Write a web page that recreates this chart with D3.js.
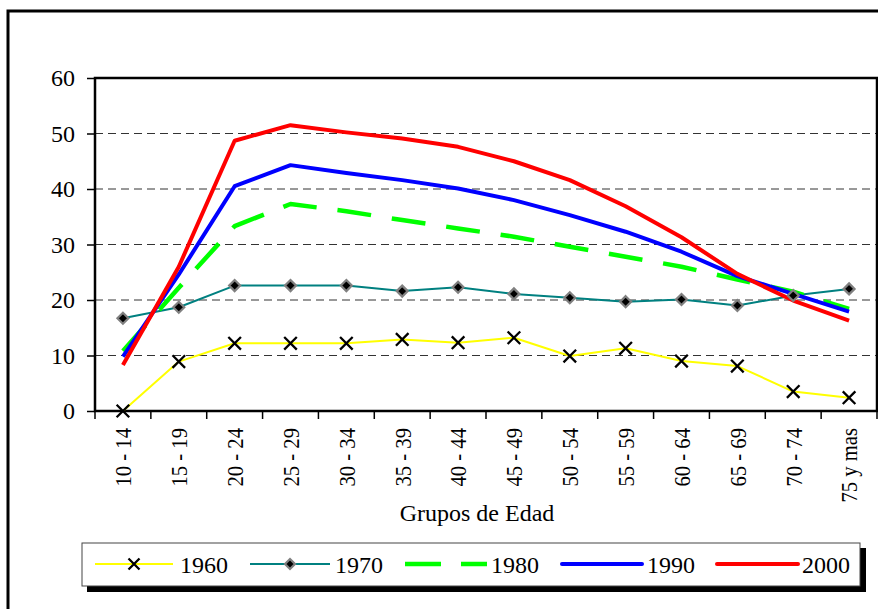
<!DOCTYPE html>
<html>
<head>
<meta charset="utf-8">
<script src="https://cdn.jsdelivr.net/npm/d3@7"></script>
<style>
  body { margin: 0; background: #fff; }
  svg { display: block; }
  svg text { font-family: "Liberation Serif", "Times New Roman", Times, "DejaVu Serif", serif !important; fill: #000; }
</style>
</head>
<body>
<svg id="chart" width="878" height="609"></svg>
<script>
const categories = ["10 - 14","15 - 19","20 - 24","25 - 29","30 - 34","35 - 39","40 - 44","45 - 49","50 - 54","55 - 59","60 - 64","65 - 69","70 - 74","75 y mas"];
const yTicks = [0, 10, 20, 30, 40, 50, 60];
const s1960 = [0, 8.9, 12.2, 12.2, 12.2, 12.9, 12.3, 13.2, 9.9, 11.3, 9.0, 8.1, 3.5, 2.4];
const s1970 = [16.7, 18.7, 22.6, 22.6, 22.6, 21.6, 22.3, 21.1, 20.4, 19.7, 20.1, 19.0, 20.8, 22.0];
const s1980 = [10.8, 22.2, 33.3, 37.3, 36.0, 34.4, 32.9, 31.4, 29.6, 27.8, 26.0, 23.7, 21.5, 18.4];
const s1990 = [9.8, 24.6, 40.5, 44.3, 42.9, 41.6, 40.1, 38.0, 35.3, 32.3, 28.7, 24.3, 21.1, 17.9];
const s2000 = [8.3, 26.0, 48.7, 51.5, 50.2, 49.1, 47.6, 45.0, 41.6, 36.9, 31.3, 24.7, 19.9, 16.3];
const seriesNames = ["1960", "1970", "1980", "1990", "2000"];

const series = [
  { name: seriesNames[0], values: s1960, color: "#FFFF00", width: 2, dash: null, marker: "x" },
  { name: seriesNames[1], values: s1970, color: "#008080", width: 2, dash: null, marker: "diamond" },
  { name: seriesNames[2], values: s1980, color: "#00FF00", width: 4.5, dash: "34,21", marker: null },
  { name: seriesNames[3], values: s1990, color: "#0000FF", width: 4, dash: null, marker: null },
  { name: seriesNames[4], values: s2000, color: "#FF0000", width: 4, dash: null, marker: null }
];

const svg = d3.select("#chart");
const L = 95, R = 877, T = 78, B = 411;

// outer frame (extends past the right/bottom edges)
svg.append("path").attr("d", "M8,620 L8,11 L890,11")
  .attr("fill", "none").attr("stroke", "#000").attr("stroke-width", 3);

const x = d3.scaleBand().domain(categories).range([L, R]).padding(0);
const y = d3.scaleLinear().domain([0, 60]).range([B, T]);
const cx = c => x(c) + x.bandwidth() / 2;

// gridlines
svg.append("g").selectAll("line").data(yTicks.filter(v => v > 0 && v < 60)).join("line")
  .attr("x1", L).attr("x2", R).attr("y1", d => y(d)).attr("y2", d => y(d))
  .attr("stroke", "#333").attr("stroke-width", 1).attr("stroke-dasharray", "8,5");

// plot border
svg.append("rect").attr("x", L).attr("y", T).attr("width", R - L).attr("height", B - T)
  .attr("fill", "none").attr("stroke", "#000").attr("stroke-width", 2.5);

// y axis
const yAxis = svg.append("g").attr("transform", `translate(${L},0)`)
  .call(d3.axisLeft(y).tickValues(yTicks).tickSize(8).tickPadding(12).tickFormat(d3.format("d")));
yAxis.attr("font-family", null).attr("font-size", null);
yAxis.select(".domain").remove();
yAxis.selectAll("line").attr("stroke", "#000").attr("stroke-width", 1.5);
yAxis.selectAll("text").style("font-size", "24px");

// x axis
const xAxis = svg.append("g").attr("transform", `translate(0,${B})`)
  .call(d3.axisBottom(x).tickSize(0).tickPadding(0));
xAxis.attr("font-family", null).attr("font-size", null);
xAxis.select(".domain").remove();
xAxis.selectAll("text")
  .style("font-size", "24px")
  .attr("text-anchor", "end")
  .attr("transform", "translate(0,17) rotate(-90) scale(0.86,1)")
  .attr("x", 0).attr("y", 0).attr("dy", "0.35em");
// tick marks at band boundaries
const bounds = categories.map(c => x(c)).concat([x.range()[1]]);
svg.append("g").selectAll("line").data(bounds).join("line")
  .attr("x1", d => d).attr("x2", d => d).attr("y1", B).attr("y2", B + 8)
  .attr("stroke", "#000").attr("stroke-width", 1.5);

// axis title
svg.append("text").attr("x", 477).attr("y", 521).attr("text-anchor", "middle")
  .style("font-size", "24px").text("Grupos de Edad");

// lines
const line = d3.line().x((d, i) => cx(categories[i])).y(d => y(d));
const gLines = svg.append("g");
series.forEach(s => {
  gLines.append("path").datum(s.values).attr("d", line)
    .attr("fill", "none").attr("stroke", s.color).attr("stroke-width", s.width)
    .attr("stroke-linejoin", "round")
    .attr("stroke-dasharray", s.dash);
});

function drawX(g, px, py, r) {
  g.append("path").attr("d", `M${px - r},${py - r}L${px + r},${py + r}M${px - r},${py + r}L${px + r},${py - r}`)
    .attr("stroke", "#000").attr("stroke-width", 2.3).attr("fill", "none");
}
function drawDiamond(g, px, py, r) {
  g.append("path").attr("d", `M${px},${py - r}L${px + r},${py}L${px},${py + r}L${px - r},${py}Z`)
    .attr("fill", "#000").attr("stroke", "#808080").attr("stroke-width", 2.2);
}

// markers
const gMarks = svg.append("g");
series.forEach(s => {
  if (!s.marker) return;
  s.values.forEach((v, i) => {
    const px = cx(categories[i]), py = y(v);
    if (s.marker === "x") drawX(gMarks, px, py, 6.3);
    else drawDiamond(gMarks, px, py, 5.5);
  });
});

// legend
const lg = svg.append("g");
lg.append("rect").attr("x", 87).attr("y", 548).attr("width", 779).attr("height", 44).attr("fill", "#000");
lg.append("rect").attr("x", 82).attr("y", 543).attr("width", 778).attr("height", 43)
  .attr("fill", "#fff").attr("stroke", "#444").attr("stroke-width", 1);
const legendItems = [
  { x1: 95, x2: 173, tx: 180 },
  { x1: 250, x2: 330, tx: 335 },
  { x1: 405, x2: 487, tx: 491 },
  { x1: 562, x2: 642, tx: 647 },
  { x1: 717, x2: 798, tx: 802 }
];
const ly = 564;
series.forEach((s, i) => {
  const it = legendItems[i];
  lg.append("line").attr("x1", it.x1).attr("x2", it.x2).attr("y1", ly).attr("y2", ly)
    .attr("stroke", s.color).attr("stroke-width", s.width)
    .attr("stroke-linecap", s.dash ? "butt" : (s.width >= 4 ? "round" : "butt"))
    .attr("stroke-dasharray", s.dash ? "36,20" : null);
  if (s.marker === "x") drawX(lg, (it.x1 + it.x2) / 2, ly, 5.5);
  if (s.marker === "diamond") drawDiamond(lg, (it.x1 + it.x2) / 2, ly, 5);
  lg.append("text").attr("x", it.tx).attr("y", 573).style("font-size", "24px").text(s.name);
});
</script>
</body>
</html>
